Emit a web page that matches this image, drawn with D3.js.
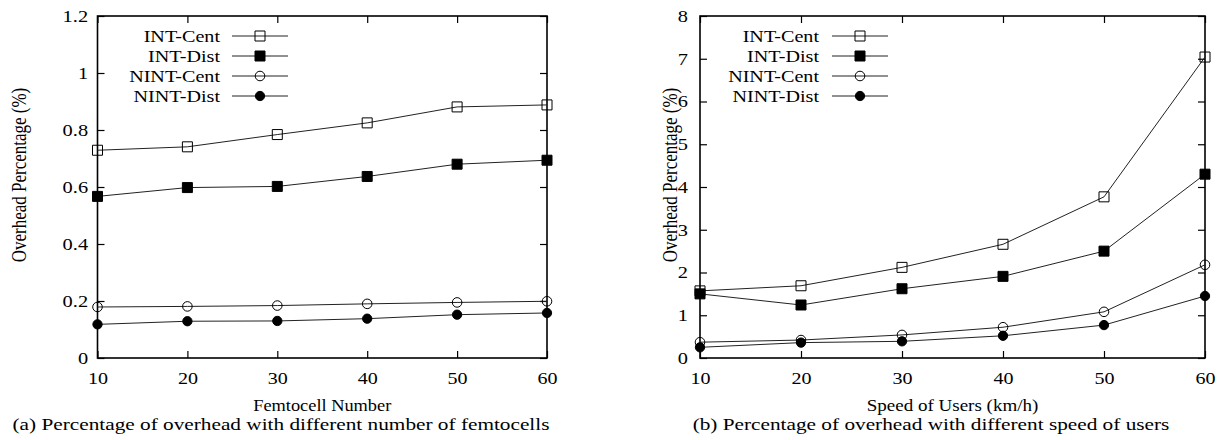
<!DOCTYPE html>
<head>
  <meta charset="utf-8">
  <script src="https://d3js.org/d3.v7.min.js"></script>
  <style>
    body { margin: 0; background: #fff; }
    svg text { font-family: "Liberation Serif", "Times New Roman", serif; fill: #000; }
  </style>
</head>
<body>
  <div id="vis"></div>
  <script>

    // ---- data ----
    var xValues = [10, 20, 30, 40, 50, 60];
    var seriesNames = ["INT-Cent", "INT-Dist", "NINT-Cent", "NINT-Dist"];

    var femtoIntCent = [0.729, 0.741, 0.784, 0.825, 0.881, 0.888];
    var femtoIntDist = [0.567, 0.598, 0.602, 0.637, 0.680, 0.694];
    var femtoNintCent = [0.179, 0.181, 0.184, 0.190, 0.195, 0.199];
    var femtoNintDist = [0.118, 0.129, 0.130, 0.138, 0.152, 0.158];

    var speedIntCent = [1.57, 1.69, 2.12, 2.66, 3.77, 7.04];
    var speedIntDist = [1.50, 1.24, 1.62, 1.91, 2.50, 4.30];
    var speedNintCent = [0.37, 0.42, 0.54, 0.72, 1.08, 2.18];
    var speedNintDist = [0.25, 0.36, 0.39, 0.52, 0.77, 1.45];

    var femtoYTicks = [0, 0.2, 0.4, 0.6, 0.8, 1, 1.2];
    var speedYTicks = [0, 1, 2, 3, 4, 5, 6, 7, 8];

    var svg = d3.select("#vis").append("svg")
      .attr("width", 1219)
      .attr("height", 440);

    // marker style per series: square open, square filled, circle open, circle filled
    var markers = [
      { type: d3.symbolSquare, size: 100, fill: "none" },
      { type: d3.symbolSquare, size: 100, fill: "#000" },
      { type: d3.symbolCircle, size: 72, fill: "none" },
      { type: d3.symbolCircle, size: 68, fill: "#000" }
    ];

    // the original figure is stretched sideways, so text gets scaled in x
    function stretchText(sel, sx) {
      sel.attr("transform", "scale(" + sx + ",1)");
    }

    function drawPanel(cfg) {
      var g = svg.append("g");
      var x = d3.scaleLinear().domain([10, 60]).range([cfg.left, cfg.right]);
      var y = d3.scaleLinear().domain([0, cfg.yMax]).range([cfg.bottom, cfg.top]);
      var tick = 7;

      // bottom axis with labels
      var ax = g.append("g")
        .attr("transform", "translate(0," + cfg.bottom + ")")
        .call(d3.axisBottom(x).tickValues(xValues).tickSize(-tick).tickSizeOuter(0).tickPadding(14));
      ax.select(".domain").remove();
      ax.selectAll("text").attr("font-size", 17).attr("font-family", null).call(stretchText, 1.18);

      // top mirror ticks
      var at = g.append("g")
        .attr("transform", "translate(0," + cfg.top + ")")
        .call(d3.axisTop(x).tickValues(xValues).tickSize(-tick).tickSizeOuter(0).tickFormat(""));
      at.select(".domain").remove();

      // left axis with labels
      var ay = g.append("g")
        .attr("transform", "translate(" + cfg.left + ",0)")
        .call(d3.axisLeft(y).tickValues(cfg.yTicks).tickSize(-tick).tickSizeOuter(0)
          .tickPadding(cfg.labelGap / 1.2)
          .tickFormat(function (d) { return String(+d.toFixed(1)); }));
      ay.select(".domain").remove();
      ay.selectAll("text").attr("font-size", 17).attr("font-family", null).call(stretchText, 1.2);

      // right mirror ticks
      var ar = g.append("g")
        .attr("transform", "translate(" + cfg.right + ",0)")
        .call(d3.axisRight(y).tickValues(cfg.yTicks).tickSize(-tick).tickSizeOuter(0).tickFormat(""));
      ar.select(".domain").remove();

      g.selectAll(".tick line").attr("stroke", "#000").attr("stroke-width", 1.2);

      // frame
      g.append("rect")
        .attr("x", cfg.left).attr("y", cfg.top)
        .attr("width", cfg.right - cfg.left).attr("height", cfg.bottom - cfg.top)
        .attr("fill", "none").attr("stroke", "#000").attr("stroke-width", 1.6);

      var line = d3.line()
        .x(function (d, i) { return x(xValues[i]); })
        .y(function (d) { return y(d); });

      cfg.series.forEach(function (vals, s) {
        g.append("path")
          .attr("d", line(vals))
          .attr("fill", "none")
          .attr("stroke", "#222")
          .attr("stroke-width", 1);

        g.selectAll(".pt" + s)
          .data(vals)
          .enter().append("path")
          .attr("transform", function (d, i) { return "translate(" + x(xValues[i]) + "," + y(d) + ")"; })
          .attr("d", d3.symbol().type(markers[s].type).size(markers[s].size))
          .attr("fill", markers[s].fill)
          .attr("stroke", "#000")
          .attr("stroke-width", 1);
      });

      // legend
      seriesNames.forEach(function (name, s) {
        var ly = cfg.legendY + s * 20;
        g.append("text")
          .attr("transform", "translate(" + cfg.legendTextX + "," + (ly + 6) + ") scale(1.15,1)")
          .attr("text-anchor", "end")
          .attr("font-size", 17.5)
          .text(name);
        g.append("line")
          .attr("x1", cfg.legendLine[0]).attr("x2", cfg.legendLine[1])
          .attr("y1", ly).attr("y2", ly)
          .attr("stroke", "#222").attr("stroke-width", 1);
        g.append("path")
          .attr("transform", "translate(" + ((cfg.legendLine[0] + cfg.legendLine[1]) / 2) + "," + ly + ")")
          .attr("d", d3.symbol().type(markers[s].type).size(markers[s].size))
          .attr("fill", markers[s].fill)
          .attr("stroke", "#000")
          .attr("stroke-width", 1);
      });

      // axis titles
      g.append("text")
        .attr("transform", "translate(" + cfg.yTitleX + "," + cfg.yTitleY + ") scale(1.25,1) rotate(-90)")
        .attr("text-anchor", "middle")
        .attr("font-size", 17)
        .text("Overhead Percentage (%)");

      g.append("text")
        .attr("transform", "translate(" + ((cfg.left + cfg.right) / 2) + ",411) scale(" + cfg.xTitleSx + ",1)")
        .attr("text-anchor", "middle")
        .attr("font-size", 17)
        .text(cfg.xTitle);

      g.append("text")
        .attr("transform", "translate(" + cfg.captionX + ",430) scale(1.33,1)")
        .attr("text-anchor", "middle")
        .attr("font-size", 16)
        .text(cfg.caption);
    }

    drawPanel({
      left: 97.5, right: 547, top: 16, bottom: 358,
      yMax: 1.2, yTicks: femtoYTicks, labelGap: 9.4,
      series: [femtoIntCent, femtoIntDist, femtoNintCent, femtoNintDist],
      legendY: 36, legendTextX: 220, legendLine: [232, 288],
      yTitleX: 26, yTitleY: 175,
      xTitle: "Femtocell Number", xTitleSx: 1.08,
      caption: "(a) Percentage of overhead with different number of femtocells",
      captionX: 281
    });

    drawPanel({
      left: 700, right: 1205, top: 16, bottom: 358,
      yMax: 8, yTicks: speedYTicks, labelGap: 12,
      series: [speedIntCent, speedIntDist, speedNintCent, speedNintDist],
      legendY: 36, legendTextX: 819, legendLine: [832, 888],
      yTitleX: 677, yTitleY: 175,
      xTitle: "Speed of Users (km/h)", xTitleSx: 1.12,
      caption: "(b) Percentage of overhead with different speed of users",
      captionX: 931
    });

  </script>
</body>
